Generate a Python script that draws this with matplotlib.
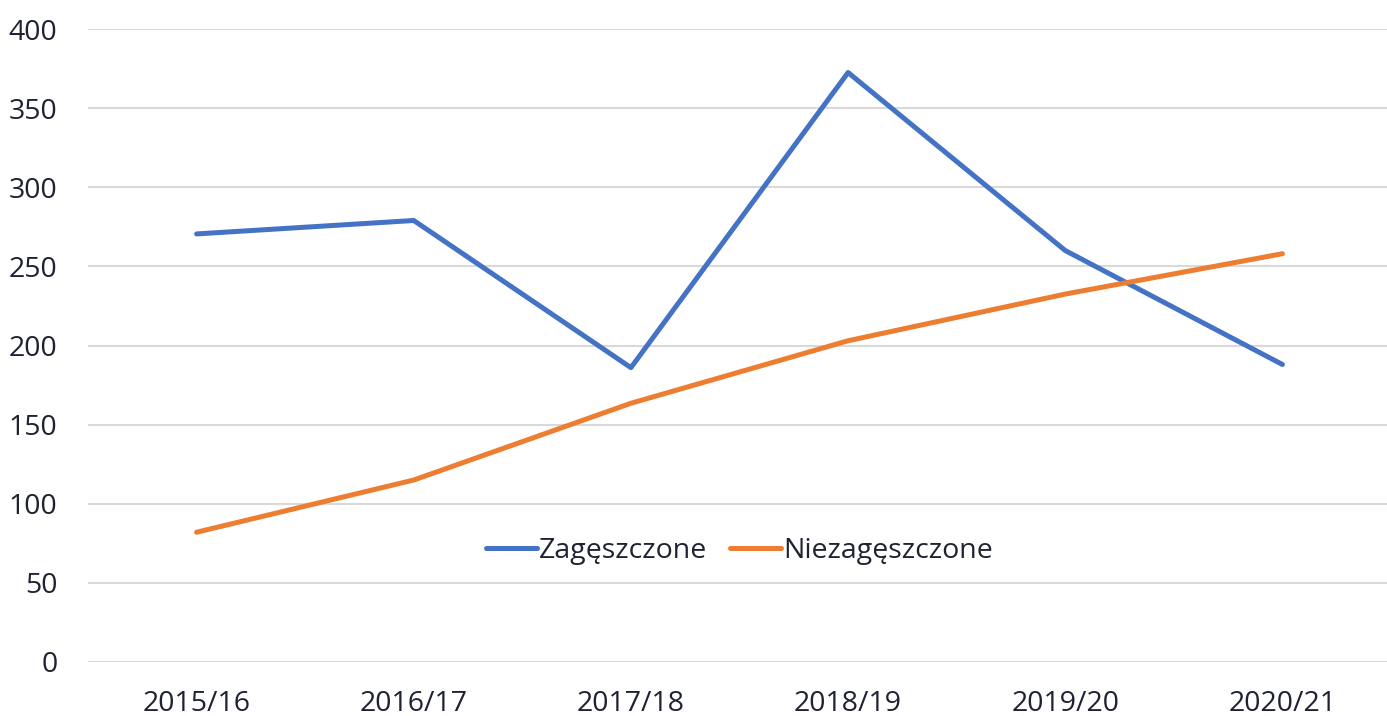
import matplotlib
matplotlib.use("Agg")
import matplotlib.pyplot as plt

seasons = ["2015/16", "2016/17", "2017/18", "2018/19", "2019/20", "2020/21"]
zageszczone = [270.5, 279, 186, 372.5, 260, 188]
niezageszczone = [82, 115, 163.5, 203, 232.5, 258]

plt.rcParams["font.family"] = ["Open Sans", "DejaVu Sans"]
text_color = "#1f2233"

fig = plt.figure(figsize=(13.87, 7.16), dpi=100)
ax = fig.add_axes([88 / 1387, 1 - 662 / 716, 1303 / 1387, (662 - 29) / 716])

x = range(len(seasons))
ax.plot(x, zageszczone, color="#4472c4", lw=3.6, solid_capstyle="round",
        solid_joinstyle="round", label="Zagęszczone")
ax.plot(x, niezageszczone, color="#ed7d31", lw=3.6, solid_capstyle="round",
        solid_joinstyle="round", label="Niezagęszczone")

ax.set_xlim(-0.5, len(seasons) - 0.5)
ax.set_ylim(0, 400)
ax.set_yticks(range(0, 401, 50))
ax.set_xticks(list(x))
ax.set_xticklabels(seasons)
ax.grid(axis="y", color="#d9d9d9", lw=1.5)
ax.set_axisbelow(True)
for s in ax.spines.values():
    s.set_visible(False)
ax.tick_params(length=0, labelsize=20.5, colors=text_color)
ax.tick_params(axis="y", pad=22)
ax.tick_params(axis="x", pad=20)

leg = ax.legend(loc="center", bbox_to_anchor=(0.5, 70 / 400), ncol=2, frameon=False,
                fontsize=20.5, handlelength=1.8, handletextpad=0.08, columnspacing=0.8)
for t in leg.get_texts():
    t.set_color(text_color)

fig.savefig("out.png", dpi=100)
